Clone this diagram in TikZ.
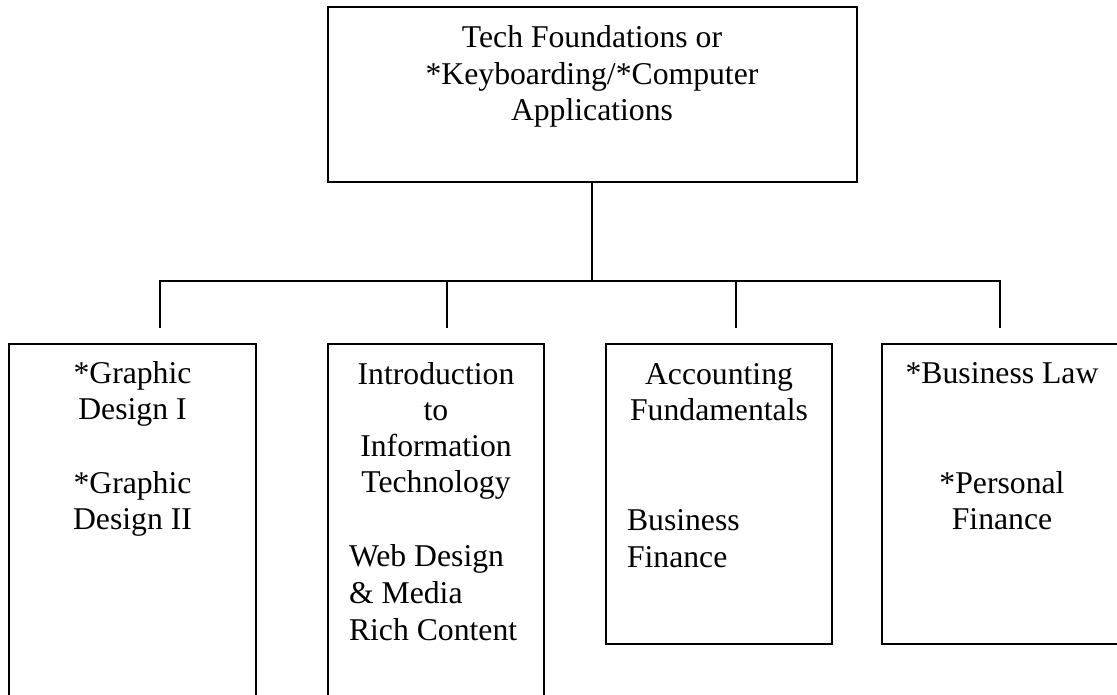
\documentclass[tikz,border=0pt]{standalone}
\usepackage{fontspec}
\setmainfont{Liberation Serif}
\begin{document}
\begin{tikzpicture}[x=1pt,y=-1pt,
  box/.style={draw=black, line width=2pt, rectangle, inner sep=0pt, outer sep=0pt},
  conn/.style={draw=black, line width=1.3pt},
  txt/.style={inner sep=0pt, outer sep=0pt, anchor=base, font=\fontsize{31.7pt}{36.5pt}\selectfont},
  ltxt/.style={txt, anchor=base west}]
\useasboundingbox (0,0) rectangle (1117,694);
\clip (0,0) rectangle (1117,694);
\fill[white] (0,0) rectangle (1117,694);
% boxes
\node[box, minimum width=529pt, minimum height=175pt] (top) at (592,94.5) {};
\node[box, minimum width=247pt, minimum height=416pt] (b1) at (132.5,552) {};
\node[box, minimum width=216pt, minimum height=416pt] (b2) at (436,552) {};
\node[box, minimum width=226pt, minimum height=300pt] (b3) at (719,494) {};
\node[box, minimum width=240pt, minimum height=300pt] (b4) at (1002,494) {};
% connector points
\coordinate (j) at (592,281);
\coordinate (h1) at (160,281);
\coordinate (h2) at (447,281);
\coordinate (h3) at (736,281);
\coordinate (h4) at (1000,281);
\coordinate (t1) at (160,328);
\coordinate (t2) at (447,328);
\coordinate (t3) at (736,328);
\coordinate (t4) at (1000,328);
\draw[conn] (top.south) -- (j);
\draw[conn] (t1) -- (h1) -- (h4) -- (t4);
\draw[conn] (h2) -- (t2);
\draw[conn] (h3) -- (t3);
% top text
\node[txt] (tt1) at (592,47.5) {Tech Foundations or};
\node[txt] (tt2) at (592,84) {*Keyboarding/*Computer};
\node[txt] (tt3) at (592,120.5) {Applications};
% box 1
\node[txt] (a1) at (132.5,383) {*Graphic};
\node[txt] (a2) at (132.5,419.5) {Design I};
\node[txt] (a3) at (132.5,493) {*Graphic};
\node[txt] (a4) at (132.5,529.5) {Design II};
% box 2
\node[txt] (c1) at (436,384) {Introduction};
\node[txt] (c2) at (436,420) {to};
\node[txt] (c3) at (436,456) {Information};
\node[txt] (c4) at (436,492) {Technology};
\node[ltxt] (c5) at (349,566) {Web Design};
\node[ltxt] (c6) at (349,603) {\& Media};
\node[ltxt] (c7) at (349,640) {Rich Content};
% box 3
\node[txt] (d1) at (719,384) {Accounting};
\node[txt] (d2) at (719,420) {Fundamentals};
\node[ltxt] (d3) at (627,530) {Business};
\node[ltxt] (d4) at (627,567) {Finance};
% box 4
\node[txt] (e1) at (1002,383) {*Business Law};
\node[txt] (e2) at (1002,493) {*Personal};
\node[txt] (e3) at (1002,529.5) {Finance};
\end{tikzpicture}
\end{document}
